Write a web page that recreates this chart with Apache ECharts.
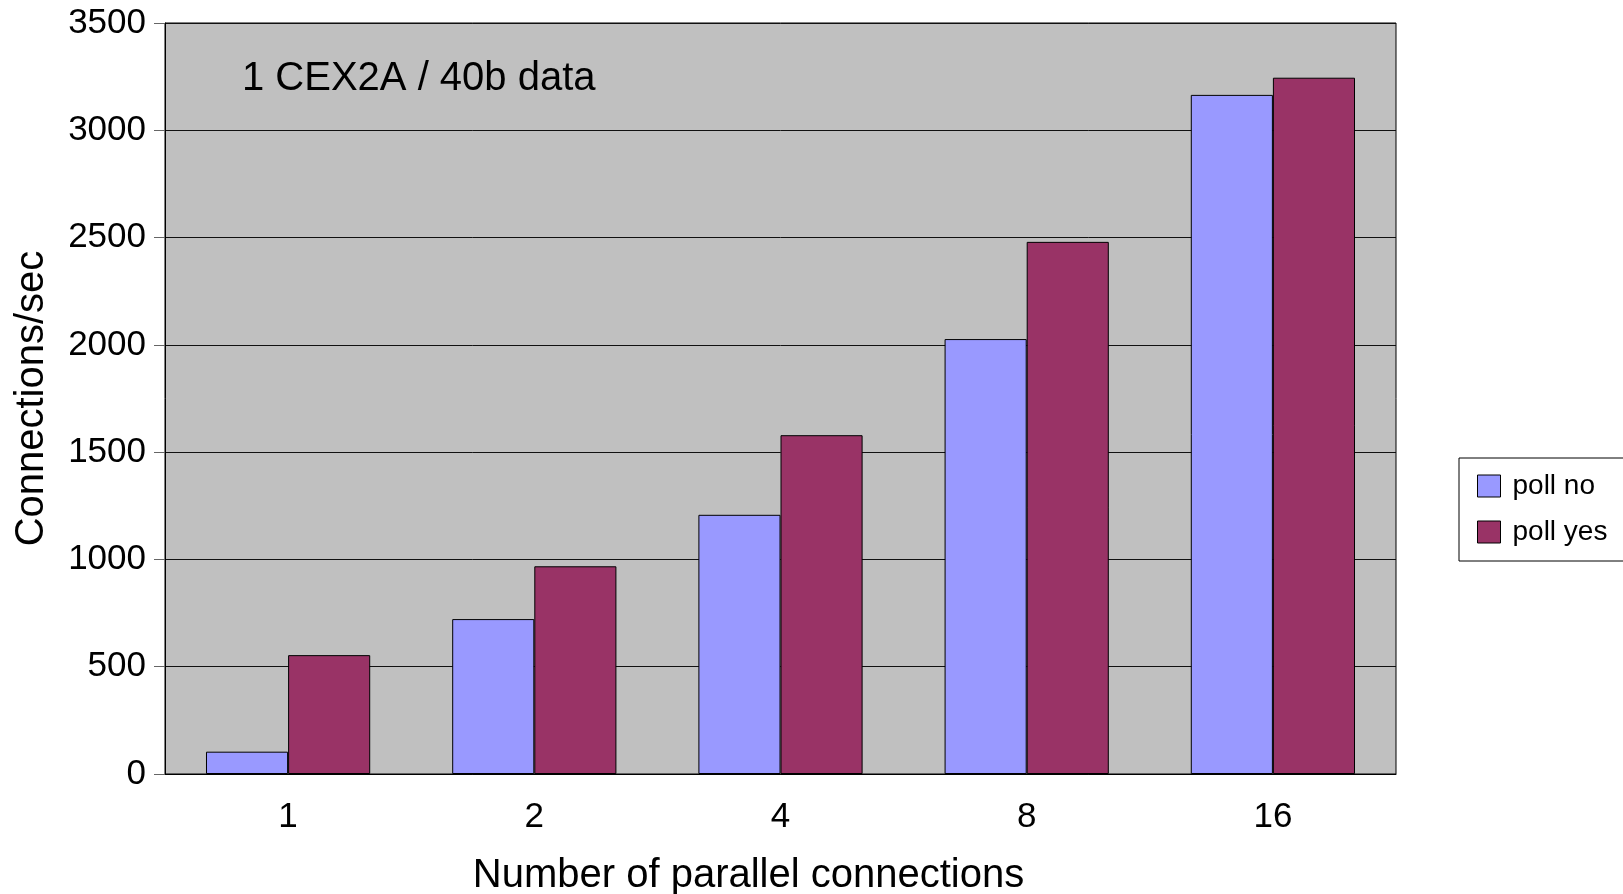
<!DOCTYPE html>
<html>
<head>
<meta charset="utf-8">
<script src="https://cdn.jsdelivr.net/npm/echarts@6/dist/echarts.min.js"></script>
<style>
html,body{margin:0;padding:0;background:#fff;}
#chart{width:1623px;height:894px;}
</style>
</head>
<body>
<div id="chart"></div>
<script>
const categories = ['1', '2', '4', '8', '16'];
const pollNo = [104, 722, 1208, 2027, 3165];
const pollYes = [554, 968, 1579, 2480, 3245];
const seriesNames = ['poll no', 'poll yes'];
const yTicks = {min: 0, max: 3500, interval: 500};
const chartTitle = '1 CEX2A / 40b data';
const xName = 'Number of parallel connections';
const yName = 'Connections/sec';

const FONT = '"Liberation Sans", Arial, sans-serif';
const chart = echarts.init(document.getElementById('chart'), null, {renderer: 'canvas'});
chart.setOption({
  backgroundColor: '#ffffff',
  animation: false,
  title: {
    text: chartTitle,
    left: 242, top: 59, padding: 0,
    textStyle: {fontFamily: FONT, fontSize: 40, fontWeight: 'normal', color: '#000'}
  },
  legend: {
    orient: 'vertical',
    left: 1459, top: 458,
    padding: [14, 24, 15, 18],
    itemWidth: 23, itemHeight: 22, itemGap: 18,
    backgroundColor: '#fff',
    borderColor: '#000', borderWidth: 1,
    icon: 'rect',
    itemStyle: {borderColor: '#000', borderWidth: 1},
    textStyle: {fontFamily: FONT, fontSize: 28, color: '#000', lineHeight: 22, padding: [0, 0, 0, 7]},
    data: seriesNames
  },
  grid: {
    left: 165, top: 23, right: 227, bottom: 120,
    outerBoundsMode: 'none', containLabel: false,
    show: true, backgroundColor: '#C0C0C0', borderColor: '#000', borderWidth: 1
  },
  xAxis: {
    type: 'category',
    data: categories,
    name: xName, nameLocation: 'middle', nameGap: 82,
    nameTextStyle: {fontFamily: FONT, fontSize: 40, color: '#000', padding: [0, 64, 0, 0]},
    axisLine: {lineStyle: {color: '#000', width: 1}},
    axisTick: {alignWithLabel: true, length: 11, lineStyle: {color: '#666'}},
    axisLabel: {fontFamily: FONT, fontSize: 35, color: '#000', margin: 26},
    splitLine: {show: false}
  },
  yAxis: {
    type: 'value',
    min: yTicks.min, max: yTicks.max, interval: yTicks.interval,
    name: yName, nameLocation: 'middle', nameGap: 113,
    nameTextStyle: {fontFamily: FONT, fontSize: 40, color: '#000'},
    axisLine: {show: true, lineStyle: {color: '#000', width: 1}},
    axisTick: {show: true, length: 11, lineStyle: {color: '#666'}},
    axisLabel: {fontFamily: FONT, fontSize: 35, color: '#000', margin: 19, formatter: function (v) { return String(v); }},
    splitLine: {show: true, lineStyle: {color: '#111', width: 1}}
  },
  series: [
    {
      name: seriesNames[0], type: 'bar', data: pollNo,
      barGap: '0%', barCategoryGap: '33.3%',
      itemStyle: {color: '#9999FF', borderColor: '#000', borderWidth: 1}
    },
    {
      name: seriesNames[1], type: 'bar', data: pollYes,
      barGap: '0%', barCategoryGap: '33.3%',
      itemStyle: {color: '#993366', borderColor: '#000', borderWidth: 1}
    }
  ]
});
</script>
</body>
</html>
